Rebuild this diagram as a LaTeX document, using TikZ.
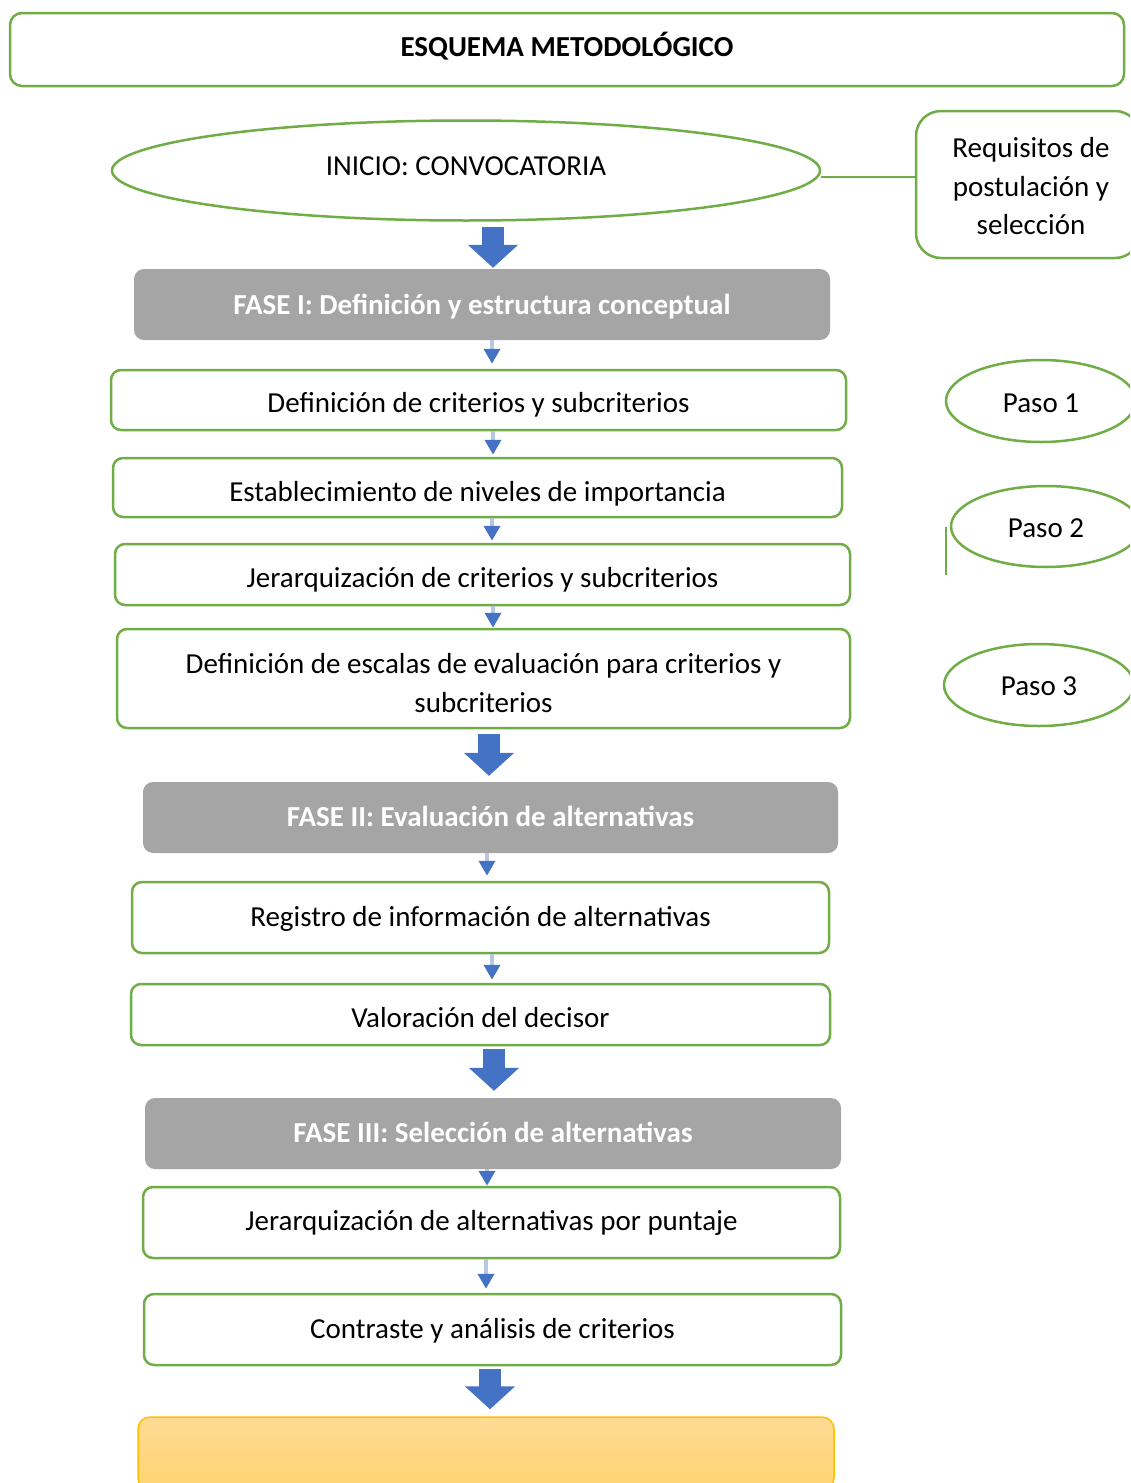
\documentclass[tikz,border=0pt]{standalone}
\usepackage{fontspec}
\setmainfont{Carlito}
\usetikzlibrary{arrows.meta,calc,shapes.geometric}

\definecolor{leaf}{HTML}{70AD47}
\definecolor{arrowblue}{HTML}{4472C4}
\definecolor{shaftblue}{HTML}{B4C7E7}
\definecolor{phasegray}{HTML}{A5A5A5}
\definecolor{goldline}{HTML}{FFC000}
\definecolor{goldtop}{HTML}{FFDA94}
\definecolor{goldbottom}{HTML}{FFD472}

% fixed line box so every label sits at the same height in its frame
\newcommand\linestrut{\rule[-8pt]{0pt}{37pt}}
% one-line label on the fixed line box, optionally raised
\newcommand\lbl[2][0pt]{\linestrut\raisebox{#1}[0pt][0pt]{#2}}

\begin{document}
\begin{tikzpicture}[x=1pt,y=-1pt,
  txt/.style={font=\fontsize{29}{38.5}\selectfont},
  stepbox/.style={txt, draw=leaf, line width=2.5pt, rounded corners=10pt,
    fill=white, align=center, inner sep=0pt},
  phasebox/.style={fill=phasegray, rounded corners=10pt, text=white,
    font=\fontsize{29}{38}\selectfont\bfseries, inner sep=0pt},
  oval/.style={txt, ellipse, draw=leaf, line width=2.5pt, fill=white,
    inner sep=0pt, align=center},
  bigarrow/.style={arrowblue, line width=22pt,
    -{Triangle[width=49pt,length=23pt]}},
  smallarrow/.style={shaftblue, line width=4pt,
    -{Triangle[width=16pt,length=15pt,color=arrowblue]}},
]
\useasboundingbox (0,0) rectangle (1130,1483);
\clip (0,0) rectangle (1130,1483);

% header
\node[stepbox, rounded corners=12pt, minimum width=1114pt, minimum height=73pt,
  font=\fontsize{29}{38}\selectfont\bfseries] (title) at (567,49.5) {\lbl[3.5pt]{ESQUEMA METODOLÓGICO}};

% start of the call and its requirements
\node[oval, minimum width=708pt, minimum height=100pt] (inicio) at (466,170.5) {\lbl[5.5pt]{INICIO: CONVOCATORIA}};
\node[stepbox, rounded corners=25pt, minimum width=224pt, minimum height=147pt] (req) at (1028,184.5)
  {\hspace*{6pt}\linestrut Requisitos de\\\hspace*{6pt}postulación y\\\hspace*{6pt}selección\rule[-6pt]{0pt}{6pt}};
\draw[leaf, line width=2pt] ([yshift=7.5pt]req.west) -- ([yshift=7.5pt]req.west -| inicio.east);

% phase I
\node[phasebox, minimum width=696pt, minimum height=71pt] (f1) at (482,304.5) {\lbl[1pt]{FASE I: Definición y estructura conceptual}};
\node[stepbox, minimum width=735pt, minimum height=60pt] (s1) at (478.5,400) {\lbl[-2pt]{Definición de criterios y subcriterios}};
\node[stepbox, minimum width=729pt, minimum height=59pt] (s2) at (477.5,487.5) {\lbl[-3pt]{Establecimiento de niveles de importancia}};
\node[stepbox, minimum width=735pt, minimum height=61pt] (s3) at (482.5,574.5) {\lbl[-2pt]{Jerarquización de criterios y subcriterios}};
\node[stepbox, minimum width=733pt, minimum height=99pt] (s4) at (483.5,678.5) {\rule[-8pt]{0pt}{45pt}Definición de escalas de evaluación para criterios y\\subcriterios\rule[-8pt]{0pt}{8pt}};

% phase II
\node[phasebox, minimum width=695pt, minimum height=71pt] (f2) at (490.5,817.5) {\lbl[2pt]{FASE II: Evaluación de alternativas}};
\node[stepbox, minimum width=697pt, minimum height=71pt] (s5) at (480.5,917.5) {\lbl[2pt]{Registro de información de alternativas}};
\node[stepbox, minimum width=699pt, minimum height=61pt] (s6) at (480.5,1014.5) {\lbl[-2pt]{Valoración del decisor}};

% phase III
\node[phasebox, minimum width=696pt, minimum height=71pt] (f3) at (493,1133.5) {\lbl[2pt]{FASE III: Selección de alternativas}};
\node[stepbox, minimum width=697pt, minimum height=71pt] (s7) at (491.5,1222.5) {\lbl[3pt]{Jerarquización de alternativas por puntaje}};
\node[stepbox, minimum width=697pt, minimum height=71pt] (s8) at (492.5,1329.5) {\lbl[2pt]{Contraste y análisis de criterios}};

% result
\node[draw=goldline, line width=1.5pt, rounded corners=12pt, top color=goldtop,
  bottom color=goldbottom, minimum width=696pt, minimum height=73pt] (res) at (486,1453.5) {};

% steps on the right
\node[oval, minimum width=190pt, minimum height=82pt] (p1) at (1041,401) {\lbl[-1pt]{Paso 1}};
\node[oval, minimum width=190pt, minimum height=81pt] (p2) at (1046,526.5) {\lbl{Paso 2}};
\node[oval, minimum width=190pt, minimum height=82pt] (p3) at (1039,685) {\lbl{Paso 3}};
\coordinate (tick) at ($(p2.west)+(-4,48)$);
\draw[leaf, line width=1.5pt] ($(p2.west)+(-4,0)$) -- (tick);

% arrow columns
\coordinate (c1) at (493,0);
\coordinate (c2) at (489,0);
\coordinate (c3) at (494,0);
\coordinate (c4) at (490,0);

% block arrows between stages
\draw[bigarrow, shorten <=5pt, shorten >=1pt] (inicio.south -| c1) -- (f1.north -| c1);
\draw[bigarrow, shorten <=5pt, shorten >=6pt] (s4.south -| c2) -- (f2.north -| c2);
\draw[bigarrow, shorten <=3pt, shorten >=7pt] (s6.south -| c3) -- (f3.north -| c3);
\draw[bigarrow, shorten <=3pt, shorten >=7pt] (s8.south -| c4) -- (res.north -| c4);

% small arrows between steps
\coordinate (k1) at (492,0);
\coordinate (k2) at (493,0);
\coordinate (k3) at (487,0);
\coordinate (k4) at (486,0);
\draw[smallarrow, shorten >=5pt] (f1.south -| k1) -- (s1.north -| k1);
\draw[smallarrow, shorten >=2pt] (s1.south -| k2) -- (s2.north -| k2);
\draw[smallarrow, shorten >=2pt] (s2.south -| k1) -- (s3.north -| k1);
\draw[smallarrow, shorten >=0pt] (s3.south -| k2) -- (s4.north -| k2);
\draw[smallarrow, shorten >=5pt] (f2.south -| k3) -- (s5.north -| k3);
\draw[smallarrow, shorten >=3pt] (s5.south -| k1) -- (s6.north -| k1);
\draw[smallarrow, shorten >=0pt] (f3.south -| k3) -- (s7.north -| k3);
\draw[smallarrow, shorten >=4pt] (s7.south -| k4) -- (s8.north -| k4);
\end{tikzpicture}
\end{document}
